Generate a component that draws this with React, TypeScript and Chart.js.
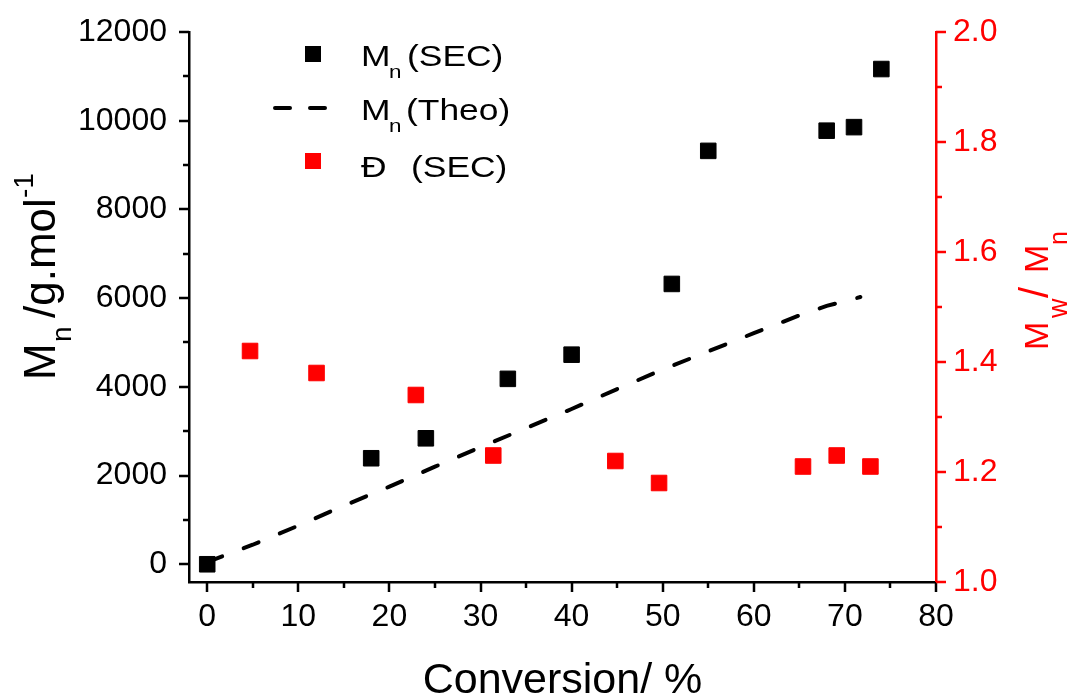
import { useEffect, useRef } from 'react';
import { Chart, registerables } from 'chart.js';

Chart.register(...registerables);

const FONT = "'Liberation Sans', Arial, sans-serif";

// Mn (SEC): conversion (%) and Mn (g/mol)
const conversionSEC = [0, 18, 24, 33, 40, 51, 55, 68, 71, 74];
const mnSEC = [0, 2390, 2840, 4180, 4725, 6320, 9320, 9775, 9855, 11165];

// Mn (Theo): dashed theoretical line
const conversionTheo = [0, 5, 10, 15, 20, 25, 30, 35, 40, 45, 50, 55, 60, 65, 68, 70, 71.7];
const mnTheo = [50, 440, 870, 1320, 1750, 2200, 2640, 3070, 3500, 3950, 4390, 4800, 5210, 5610, 5825, 5930, 6025];

// Đ (SEC): dispersity Mw/Mn
const conversionD = [4.7, 12, 22.9, 31.4, 44.8, 49.6, 65.4, 69.1, 72.8];
const dispersity = [1.42, 1.38, 1.34, 1.23, 1.22, 1.18, 1.21, 1.23, 1.21];

// Axis ticks
const xTicks = [0, 10, 20, 30, 40, 50, 60, 70, 80];
const xMinorTicks = [5, 15, 25, 35, 45, 55, 65, 75];
const yTicks = [0, 2000, 4000, 6000, 8000, 10000, 12000];
const yMinorTicks = [1000, 3000, 5000, 7000, 9000, 11000];
const y2Ticks = [1.0, 1.2, 1.4, 1.6, 1.8, 2.0];
const y2MinorTicks = [1.1, 1.3, 1.5, 1.7, 1.9];

const RED = '#ff0000';
const BLACK = '#000000';

type Seg = { text: string; dx: number; dy?: number; size: number; sx?: number };

function drawRich(ctx: CanvasRenderingContext2D, ox: number, oy: number, rot: number, segs: Seg[], color: string) {
  ctx.save();
  ctx.translate(ox, oy);
  ctx.rotate(rot);
  ctx.fillStyle = color;
  ctx.textBaseline = 'alphabetic';
  ctx.textAlign = 'left';
  for (const s of segs) {
    ctx.save();
    ctx.translate(s.dx, s.dy || 0);
    ctx.scale(s.sx || 1, 1);
    ctx.font = `${s.size}px ${FONT}`;
    ctx.fillText(s.text, 0, 0);
    ctx.restore();
  }
  ctx.restore();
}

const decorPlugin = {
  id: 'decor',
  afterDraw(chart: any) {
    const ctx: CanvasRenderingContext2D = chart.ctx;
    const area = chart.chartArea;
    const xs = chart.scales.x;
    const ys = chart.scales.y;
    const y2s = chart.scales.y2;
    const major = 10;
    const minor = 6;
    ctx.save();
    ctx.lineWidth = 2.5;
    ctx.lineCap = 'butt';
    ctx.strokeStyle = BLACK;
    ctx.beginPath();
    for (const v of xTicks) {
      const p = Math.round(xs.getPixelForValue(v));
      ctx.moveTo(p, area.bottom);
      ctx.lineTo(p, area.bottom + major);
    }
    for (const v of xMinorTicks) {
      const p = Math.round(xs.getPixelForValue(v));
      ctx.moveTo(p, area.bottom);
      ctx.lineTo(p, area.bottom + minor);
    }
    for (const v of yTicks) {
      const p = Math.round(ys.getPixelForValue(v));
      ctx.moveTo(area.left, p);
      ctx.lineTo(area.left - major, p);
    }
    for (const v of yMinorTicks) {
      const p = Math.round(ys.getPixelForValue(v));
      ctx.moveTo(area.left, p);
      ctx.lineTo(area.left - minor, p);
    }
    ctx.stroke();
    ctx.strokeStyle = RED;
    ctx.beginPath();
    for (const v of y2Ticks) {
      const p = Math.round(y2s.getPixelForValue(v));
      ctx.moveTo(area.right, p);
      ctx.lineTo(area.right + major, p);
    }
    for (const v of y2MinorTicks) {
      const p = Math.round(y2s.getPixelForValue(v));
      ctx.moveTo(area.right, p);
      ctx.lineTo(area.right + minor, p);
    }
    ctx.stroke();
    ctx.restore();

    // Left axis title: Mn /g.mol-1
    drawRich(ctx, 55, 380, -Math.PI / 2, [
      { text: 'M', dx: 0, size: 44 },
      { text: 'n', dx: 38, dy: 16, size: 28 },
      { text: '/g.mol', dx: 62, size: 44 },
      { text: '-1', dx: 182, dy: -22, size: 28 },
    ], BLACK);

    // Right axis title: Mw/Mn
    drawRich(ctx, 1048, 350, -Math.PI / 2, [
      { text: 'M', dx: 0, size: 34 },
      { text: 'w', dx: 32, dy: 19, size: 27 },
      { text: '/', dx: 52, size: 40 },
      { text: 'M', dx: 77, size: 34 },
      { text: 'n', dx: 105, dy: 19, size: 25 },
    ], RED);

    // Legend
    ctx.save();
    ctx.fillStyle = BLACK;
    ctx.fillRect(305, 46, 16, 16);
    ctx.fillStyle = RED;
    ctx.fillRect(305, 153, 16, 16);
    ctx.strokeStyle = BLACK;
    ctx.lineWidth = 4;
    ctx.lineCap = 'round';
    ctx.beginPath();
    ctx.moveTo(275, 108);
    ctx.lineTo(290, 108);
    ctx.moveTo(310, 108);
    ctx.lineTo(325, 108);
    ctx.stroke();
    ctx.restore();
    const LS = 30;
    const SX = 1.18;
    drawRich(ctx, 0, 0, 0, [
      { text: 'M', dx: 361, dy: 66, size: LS, sx: SX },
      { text: 'n', dx: 389, dy: 78, size: 19, sx: SX },
      { text: '(SEC)', dx: 407, dy: 66, size: LS, sx: SX },
      { text: 'M', dx: 361, dy: 120, size: LS, sx: SX },
      { text: 'n', dx: 389, dy: 132, size: 19, sx: SX },
      { text: '(Theo)', dx: 406, dy: 120, size: LS, sx: SX },
      { text: 'Đ', dx: 361, dy: 177, size: LS, sx: SX },
      { text: '(SEC)', dx: 411, dy: 177, size: LS, sx: SX },
    ], BLACK);
  },
};

const zeroPad = (s: any) => {
  s.paddingTop = 0;
  s.paddingBottom = 0;
  s.paddingLeft = 0;
  s.paddingRight = 0;
};

export default function App() {
  const ref = useRef<HTMLCanvasElement | null>(null);

  useEffect(() => {
    if (!ref.current) return;
    const chart = new Chart(ref.current, {
      type: 'scatter',
      data: {
        datasets: [
          {
            label: 'Mn (SEC)',
            data: conversionSEC.map((x, i) => ({ x, y: mnSEC[i] })),
            yAxisID: 'y',
            pointStyle: 'rect',
            pointRadius: 11,
            backgroundColor: BLACK,
            borderColor: BLACK,
            borderWidth: 1,
            order: 0,
          },
          {
            label: 'Mn (Theo)',
            data: conversionTheo.map((x, i) => ({ x, y: mnTheo[i] })),
            yAxisID: 'y',
            showLine: true,
            pointRadius: 0,
            borderColor: BLACK,
            backgroundColor: BLACK,
            borderWidth: 4,
            borderDash: [16, 23],
            borderCapStyle: 'round',
            tension: 0,
            order: 2,
          },
          {
            label: 'Đ (SEC)',
            data: conversionD.map((x, i) => ({ x, y: dispersity[i] })),
            yAxisID: 'y2',
            pointStyle: 'rect',
            pointRadius: 11,
            backgroundColor: RED,
            borderColor: RED,
            borderWidth: 1,
            order: 1,
          },
        ],
      } as any,
      options: {
        responsive: false,
        animation: false,
        events: [],
        layout: { padding: { top: 32, left: 0, right: 0, bottom: 0 } },
        plugins: {
          legend: { display: false },
          tooltip: { enabled: false },
        },
        scales: {
          x: {
            type: 'linear',
            position: 'bottom',
            min: -2,
            max: 80,
            afterBuildTicks: (s: any) => {
              s.ticks = xTicks.map((v) => ({ value: v }));
            },
            afterFit: (s: any) => {
              s.height = 116;
              zeroPad(s);
            },
            grid: { display: false, drawTicks: false },
            border: { display: true, color: BLACK, width: 2.5 },
            ticks: {
              font: { size: 32, family: FONT },
              color: BLACK,
              padding: 16,
              maxRotation: 0,
              autoSkip: false,
            },
            title: {
              display: true,
              text: 'Conversion/ %',
              font: { size: 43, family: FONT, lineHeight: 0.8 },
              color: BLACK,
              padding: 0,
            },
          },
          y: {
            type: 'linear',
            position: 'left',
            min: -400,
            max: 12000,
            afterBuildTicks: (s: any) => {
              s.ticks = yTicks.map((v) => ({ value: v }));
            },
            afterFit: (s: any) => {
              s.width = 189;
              zeroPad(s);
            },
            grid: { display: false, drawTicks: false },
            border: { display: true, color: BLACK, width: 2.5 },
            ticks: {
              font: { size: 32, family: FONT },
              color: BLACK,
              padding: 22,
              callback: (v: any) => String(v),
            },
          },
          y2: {
            type: 'linear',
            position: 'right',
            min: 1.0,
            max: 2.0,
            afterBuildTicks: (s: any) => {
              s.ticks = y2Ticks.map((v) => ({ value: v }));
            },
            afterFit: (s: any) => {
              s.width = 143;
              zeroPad(s);
            },
            grid: { display: false, drawTicks: false },
            border: { display: true, color: RED, width: 2.5 },
            ticks: {
              font: { size: 32, family: FONT },
              color: RED,
              padding: 17,
              callback: (v: any) => Number(v).toFixed(1),
            },
          },
        },
      } as any,
      plugins: [decorPlugin],
    });
    return () => chart.destroy();
  }, []);

  return (
    <div style={{ position: 'fixed', left: 0, top: 0, width: 1079, height: 698, background: '#fff' }}>
      <canvas ref={ref} width={1079} height={698} style={{ width: 1079, height: 698, display: 'block' }} />
    </div>
  );
}
